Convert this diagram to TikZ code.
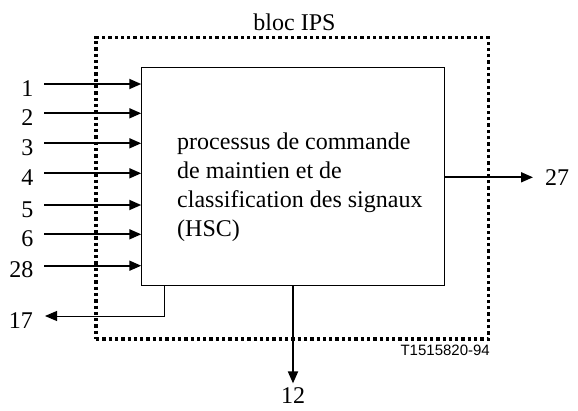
\documentclass[tikz,border=0pt]{standalone}
\usepackage{fontspec}
\setmainfont{Liberation Serif}
\setsansfont{Liberation Sans}
\usetikzlibrary{arrows.meta,calc}
\begin{document}
\begin{tikzpicture}[x=1pt,y=-1pt,
  lbl/.style={inner sep=0pt,font=\fontsize{24}{29}\selectfont},
  arr/.style={line width=1.8pt,-{Triangle[length=12pt,width=10pt]}},
  thinarr/.style={line width=0.9pt,-{Triangle[length=12pt,width=10pt]}},
  procbox/.style={draw,line width=0.9pt,minimum width=302.3pt,minimum height=218.4pt,inner sep=0pt},
  ipsbox/.style={draw,line width=3.3pt,dash pattern=on 3.3pt off 3pt,minimum width=392.5pt,minimum height=301.5pt,inner sep=0pt}]
\useasboundingbox (0,0) rectangle (578,410);
\node[ipsbox] (ips) at (292.25,188.25) {};
\node[procbox] (hsc) at (292.85,176.5) {};
\node[lbl,anchor=north west,align=left] (txt) at (177,132.6) {processus de commande\\de maintien et de\\classification des signaux\\(HSC)};
\node[lbl,anchor=base] (bloc) at (294.5,30) {bloc IPS};
\node[inner sep=0pt,anchor=base east,font=\sffamily\fontsize{15}{18}\selectfont] (tag) at (490,355) {T1515820-94};
\foreach \n/\y in {1/84,2/113.3,3/143.3,4/173.3,5/205,6/234.3,28/265.7}{
  \coordinate (in\n) at (44,\y);
  \node[lbl,anchor=base east] (lab\n) at (33.5,\y+12) {\n};
  \draw[arr] (in\n) -- (in\n -| hsc.west);
}
\coordinate (c17) at (45,316);
\coordinate (k17) at (164.3,0);
\node[lbl,anchor=base east] (lab17) at (33,328) {17};
\draw[thinarr] (hsc.south -| k17) |- (c17);
\node[lbl,anchor=base] (lab12) at (293,403.5) {12};
\draw[arr] (hsc.south -| lab12) -- ([yshift=4pt]lab12.north);
\node[lbl,anchor=west] (lab27) at (545,177.3) {27};
\draw[arr] (hsc.east |- lab27) -- ([xshift=-12pt]lab27.west);
\end{tikzpicture}
\end{document}
